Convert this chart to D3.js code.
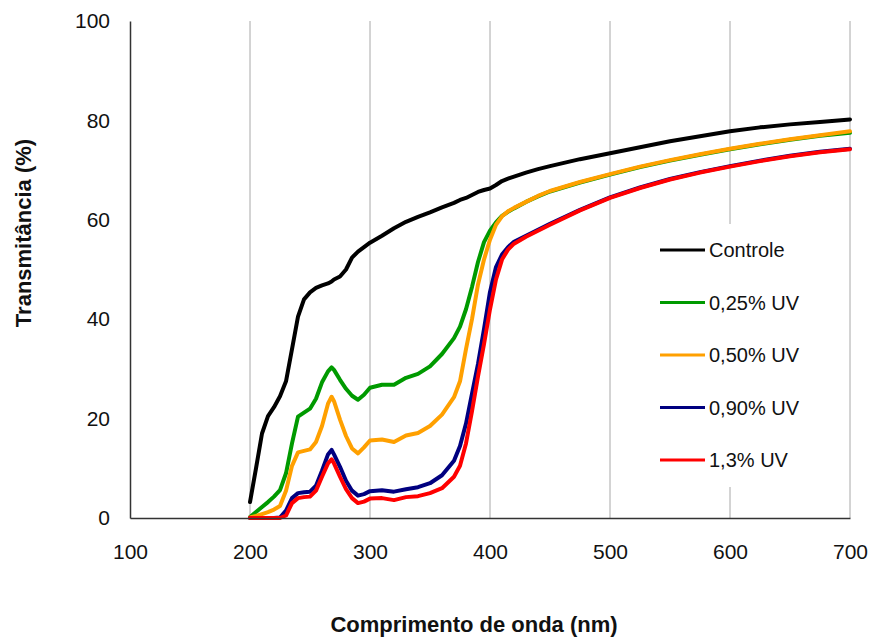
<!DOCTYPE html>
<html>
<head>
<meta charset="utf-8">
<script src="https://cdn.jsdelivr.net/npm/d3@7"></script>
<style>
  body { margin: 0; background: #fff; }
  text { font-family: "Liberation Sans", Arial, sans-serif; fill: #111; }
</style>
</head>
<body>
<div id="chart"></div>
<script>
// wavelengths (nm) shared by every series
const wavelengths = [200, 205, 210, 215, 220, 225, 230, 235, 240, 245, 250, 255, 260, 265, 268, 270, 275, 280, 285, 290, 295, 300, 310, 320, 330, 340, 350, 360, 370, 375, 380, 385, 390, 395, 400, 405, 410, 415, 420, 430, 440, 450, 475, 500, 525, 550, 575, 600, 625, 650, 675, 700]

const controle = [3.2, 10, 17, 20.5, 22.3, 24.5, 27.5, 34, 40.5, 44, 45.4, 46.3, 46.8, 47.2, 47.6, 48, 48.6, 50, 52.4, 53.6, 54.5, 55.4, 56.8, 58.3, 59.6, 60.6, 61.5, 62.5, 63.4, 64, 64.4, 65, 65.6, 66, 66.3, 67, 67.8, 68.3, 68.7, 69.5, 70.2, 70.8, 72.2, 73.4, 74.6, 75.8, 76.8, 77.8, 78.6, 79.2, 79.7, 80.2]
const uv025 = [0.2, 1.2, 2.2, 3.2, 4.3, 5.6, 9, 15, 20.4, 21.2, 22, 24, 27.3, 29.5, 30.3, 29.8, 27.8, 26, 24.6, 23.8, 24.8, 26.2, 26.8, 26.8, 28.2, 29, 30.5, 33, 36.2, 38.5, 42, 46.5, 51.5, 55.5, 57.8, 59.5, 60.8, 61.6, 62.3, 63.6, 64.7, 65.7, 67.5, 69.1, 70.6, 71.9, 73.1, 74.2, 75.2, 76.1, 76.9, 77.5]
const uv050 = [0.1, 0.4, 0.8, 1.2, 1.7, 2.4, 5.5, 10.5, 13.2, 13.5, 13.8, 15.3, 18.5, 23, 24.4, 23.5, 19.8, 16.5, 14, 13, 14.2, 15.6, 15.8, 15.3, 16.6, 17.1, 18.5, 20.8, 24.3, 27.5, 34, 40, 47, 52, 56, 59, 60.7, 61.7, 62.4, 63.6, 64.8, 65.8, 67.6, 69.2, 70.7, 72, 73.2, 74.3, 75.3, 76.2, 77, 77.8]
const uv090 = [0, 0, 0, 0, 0, 0.1, 1.5, 4, 5, 5.2, 5.3, 6.5, 9.5, 12.8, 13.7, 12.8, 10.3, 7.5, 5.5, 4.5, 4.8, 5.4, 5.6, 5.3, 5.8, 6.2, 7, 8.6, 11.5, 14.5, 19, 25, 31, 38, 45.5, 50.5, 53, 54.5, 55.6, 56.8, 58, 59.2, 62, 64.5, 66.5, 68.2, 69.6, 70.8, 71.9, 72.9, 73.7, 74.3]
const uv13 = [0, 0, 0, 0, 0, 0, 0.5, 3, 4, 4.2, 4.3, 5.5, 8.3, 11, 11.8, 11, 8.3, 5.8, 4, 3, 3.3, 3.9, 4, 3.6, 4.2, 4.4, 5, 6, 8.3, 10.5, 15, 21.5, 28.5, 35, 42, 48, 52, 54, 55.2, 56.6, 57.8, 59, 61.9, 64.4, 66.4, 68.1, 69.5, 70.7, 71.8, 72.8, 73.6, 74.2]

const seriesNames = ["Controle", "0,25% UV", "0,50% UV", "0,90% UV", "1,3% UV"]
const seriesValues = [controle, uv025, uv050, uv090, uv13]
const seriesColors = ["#000000", "#009a00", "#ffa000", "#000080", "#ff0000"]

const xTicks = [100, 200, 300, 400, 500, 600, 700]
const yTicks = [0, 20, 40, 60, 80, 100]

const width = 870, height = 637
const plotLeft = 130, plotRight = 850, plotTop = 21, plotBottom = 518

const svg = d3.select("#chart")
    .append("svg")
        .attr("width", width)
        .attr("height", height)

const x = d3.scaleLinear().domain([100, 700]).range([plotLeft, plotRight])
const y = d3.scaleLinear().domain([0, 100]).range([plotBottom, plotTop])

// vertical gridlines
svg.append("g")
    .selectAll("line")
    .data(xTicks.slice(1))
    .enter().append("line")
        .attr("x1", d => x(d)).attr("x2", d => x(d))
        .attr("y1", plotBottom).attr("y2", plotTop)
        .attr("stroke", "#a8a8a8")
        .attr("stroke-width", 1)

// legend backing hides the gridline behind it
svg.append("rect")
    .attr("x", 645).attr("y", 224)
    .attr("width", 200).attr("height", 263)
    .attr("fill", "#fff")

const line = d3.line()
    .x((d, i) => x(wavelengths[i]))
    .y(d => y(d))

seriesValues.forEach((vals, k) => {
    svg.append("path")
        .datum(vals)
        .attr("fill", "none")
        .attr("stroke", seriesColors[k])
        .attr("stroke-width", 4)
        .attr("stroke-linejoin", "round")
        .attr("stroke-linecap", "round")
        .attr("d", line)
})

// axes
const xAxis = svg.append("g")
    .attr("transform", "translate(0," + plotBottom + ")")
    .call(d3.axisBottom(x).tickValues(xTicks).tickSize(0).tickPadding(26).tickFormat(d3.format("d")))
xAxis.select(".domain").attr("stroke", "#333").attr("stroke-width", 1.5)
xAxis.selectAll("text").attr("font-size", 21).attr("font-family", "Liberation Sans, Arial, sans-serif").attr("fill", "#111")

const yAxis = svg.append("g")
    .attr("transform", "translate(" + plotLeft + ",0)")
    .call(d3.axisLeft(y).tickValues(yTicks).tickSize(0).tickPadding(20))
yAxis.select(".domain").attr("stroke", "#333").attr("stroke-width", 1.5)
yAxis.selectAll("text").attr("font-size", 21).attr("font-family", "Liberation Sans, Arial, sans-serif").attr("fill", "#111")

// axis titles
svg.append("text")
    .attr("x", 474).attr("y", 632)
    .attr("text-anchor", "middle")
    .attr("font-size", 22)
    .attr("font-weight", "bold")
    .text("Comprimento de onda (nm)")

svg.append("text")
    .attr("transform", "translate(31,233) rotate(-90)")
    .attr("text-anchor", "middle")
    .attr("font-size", 22)
    .attr("font-weight", "bold")
    .text("Transmitância (%)")

// legend
const legend = svg.append("g")
seriesNames.forEach((name, k) => {
    const ly = 250 + k * 52.5
    legend.append("line")
        .attr("x1", 660).attr("x2", 705)
        .attr("y1", ly).attr("y2", ly)
        .attr("stroke", seriesColors[k])
        .attr("stroke-width", 3)
    legend.append("text")
        .attr("x", 709).attr("y", ly)
        .attr("dy", "0.35em")
        .attr("font-size", 20)
        .text(name)
})
</script>
</body>
</html>
